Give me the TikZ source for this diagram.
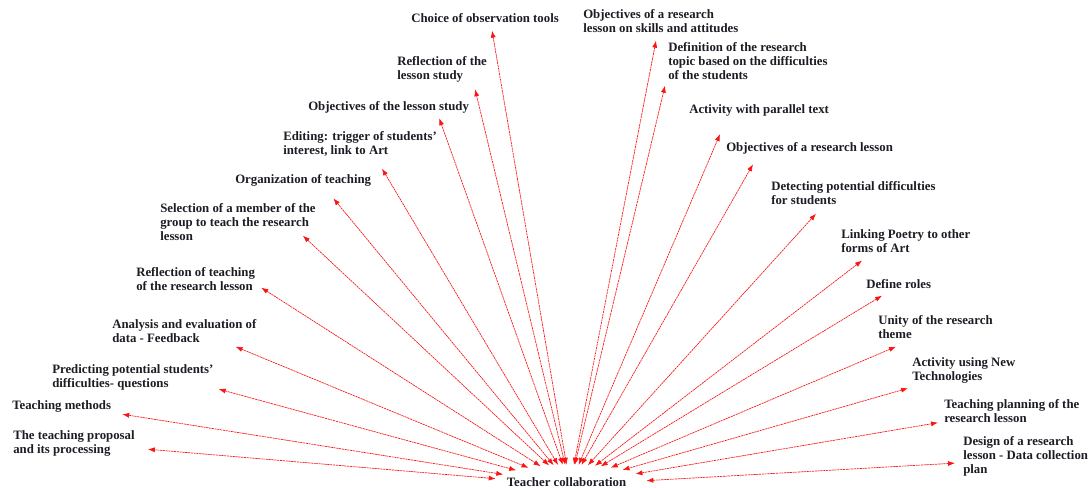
\documentclass[tikz,border=0pt]{standalone}
\usepackage{fontspec}
\setmainfont{Liberation Serif}
\usepackage{tikz}
\usetikzlibrary{arrows.meta, calc, shapes.geometric}
\definecolor{cA}{RGB}{250,20,20}
\definecolor{cT}{RGB}{28,28,36}

\tikzset{
  lbl/.style={font=\fontsize{9.6}{10.5}\selectfont\bfseries, text=cT, align=left, inner sep=0pt, anchor=north west},
  link/.style={cA, dash pattern=on 1.6pt off 0.5pt, line width=0.5pt, {Latex[length=5.2pt,width=3.8pt]}-{Latex[length=5.2pt,width=3.8pt]}},
  hubshape/.style={ellipse, minimum width=117pt, minimum height=30pt, inner sep=0pt}
}

\begin{document}
\begin{tikzpicture}[x=0.75pt, y=-0.75pt]

    \useasboundingbox (0,0) rectangle (1091,488);

    % --- Centre ---
    \node[hubshape] (hub) at (570,485) {};
    \node[lbl, anchor=center] (tc) at (566.5,482) {Teacher collaboration};

    % --- Right fan ---
    \node[lbl] (objsk) at (583,9) {Objectives of a research\\lesson on skills and attitudes};
    \node[lbl] (defin) at (668,42) {Definition of the research\\topic based on the difficulties\\of the students};
    \node[lbl] (par) at (689,104) {Activity with parallel text};
    \node[lbl] (objrl) at (726,142) {Objectives of a research lesson};
    \node[lbl] (det) at (771,181) {Detecting potential difficulties\\for students};
    \node[lbl] (link) at (841,229) {Linking Poetry to other\\forms of Art};
    \node[lbl] (roles) at (866,279) {Define roles};
    \node[lbl] (unity) at (878,315) {Unity of the research\\theme};
    \node[lbl] (newt) at (912,357) {Activity using New\\Technologies};
    \node[lbl] (plan) at (944,399) {Teaching planning of the\\research lesson};
    \node[lbl] (design) at (963,436) {Design of a research\\lesson - Data collection\\plan};

    % --- Left fan ---
    \node[lbl] (choice) at (411,13) {Choice of observation tools};
    \node[lbl] (refls) at (397,56) {Reflection of the\\lesson study};
    \node[lbl] (objls) at (308,101) {Objectives of the lesson study};
    \node[lbl] (edit) at (283,131) {Editing: trigger of students'\\interest, link to Art};
    \node[lbl] (org) at (235,174) {Organization of teaching};
    \node[lbl] (sel) at (160,203) {Selection of a member of the\\group to teach the research\\lesson};
    \node[lbl] (reflt) at (136,267) {Reflection of teaching\\of the research lesson};
    \node[lbl] (anal) at (112,319) {Analysis and evaluation of\\data - Feedback};
    \node[lbl] (pred) at (52,364) {Predicting potential students'\\difficulties- questions};
    \node[lbl] (meth) at (12,400) {Teaching methods};
    \node[lbl] (prop) at (13,430) {The teaching proposal\\and its processing};

    % --- Links (right) ---
    \draw[link] ($(objsk.south west)+(73,8)$) -- (hub);
    \draw[link] ($(defin.south west)+(-3,6)$) -- (hub);
    \draw[link] ($(par.south west)+(31,18)$) -- (hub);
    \draw[link] ($(objrl.south west)+(27,10)$) -- (hub);
    \draw[link] ($(det.south west)+(45,9)$) -- (hub);
    \draw[link] ($(link.south west)+(21,8)$) -- (hub);
    \draw[link] ($(roles.south west)+(16,7)$) -- (hub);
    \draw[link] ($(unity.south west)+(18,8)$) -- (hub);
    \draw[link] ($(newt.south west)+(-4,5)$) -- (hub);
    \draw[link] ($(plan.south west)+(-6,0)$) -- (hub);
    \draw[link] ($(design.west)+(-8,7)$) -- (hub);

    % --- Links (left) ---
    \draw[link] ($(choice.south)+(7,8)$) -- (hub);
    \draw[link] ($(refls.south east)+(-12,7)$) -- (hub);
    \draw[link] ($(objls.south east)+(-30,5)$) -- (hub);
    \draw[link] ($(edit.south west)+(99,12)$) -- (hub);
    \draw[link] ($(org.south east)+(-38,12)$) -- (hub);
    \draw[link] ($(sel.south east)+(-13,-5)$) -- (hub);
    \draw[link] ($(reflt.south east)+(6,-3)$) -- (hub);
    \draw[link] ($(anal.south east)+(-21,4)$) -- (hub);
    \draw[link] ($(pred.south east)+(5,-1)$) -- (hub);
    \draw[link] ($(meth.south east)+(11,2)$) -- (hub);
    \draw[link] ($(prop.south east)+(13,-7)$) -- (hub);

\end{tikzpicture}
\end{document}
